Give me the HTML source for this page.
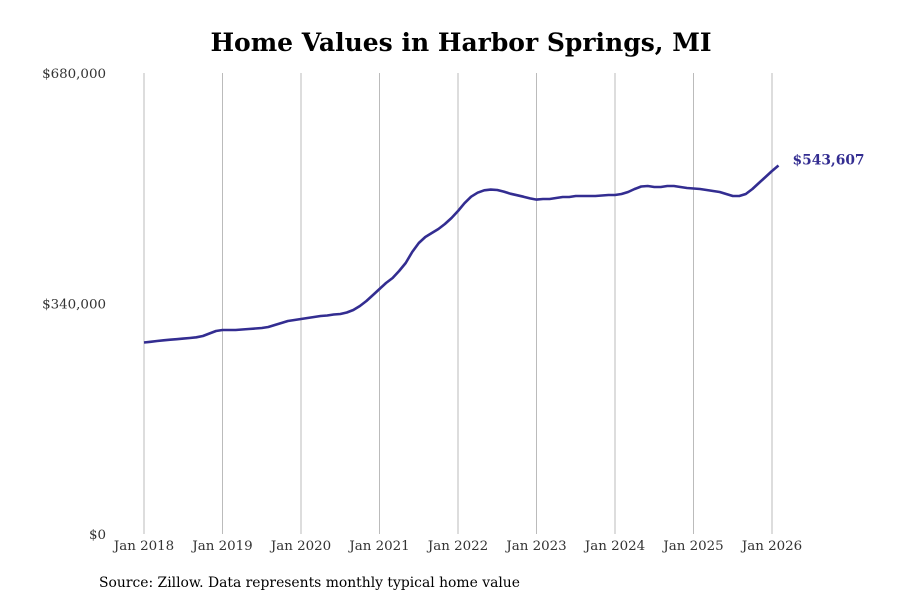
<!DOCTYPE html>
<html><head><meta charset="utf-8"><style>
body{margin:0;background:#fff;}
svg{display:block;font-family:"DejaVu Serif","Liberation Serif",serif;}
</style></head><body>
<svg id="chart" width="900" height="600">
<text x="461" y="51" text-anchor="middle" font-size="25" font-weight="bold">Home Values in Harbor Springs, MI</text>
<g id="grid"></g><g id="yaxis"></g><g id="xaxis"></g><g id="series"></g>
<text x="99" y="587" font-size="13.9">Source: Zillow. Data represents monthly typical home value</text>
</svg>
<script>
const values=[282.5,283.5,284.7,285.7,286.6,287.3,288.2,289.1,290.1,292.1,295.7,299.4,
300.9,300.9,300.9,301.6,302.4,303.1,303.9,305.3,308.3,311.2,314.2,315.7,
317.1,318.6,320.1,321.6,322.3,323.8,324.5,326.7,330.4,336.3,343.7,352.5,
361.4,370.2,377.6,387.9,399.7,416,429.2,438.1,444,449.9,457.3,466.1,
476.5,488,497.5,503.5,507,508,507.4,505,502,499.8,497.5,495,
493.3,494.1,494.1,495.6,497.1,497.1,498.6,498.6,498.6,498.6,499.3,500,
500,501.5,504.5,508.9,512.6,513.3,511.8,511.8,513.3,513.3,511.8,510.4,
509.6,508.9,507.4,505.9,504.5,501.5,498.6,498.6,501.5,508.9,517.7,526.6,
535.4,543.607];
const yTicks=[0,340000,680000];
const yTickLabels=["$0","$340,000","$680,000"];
const xTickLabels=["Jan 2018","Jan 2019","Jan 2020","Jan 2021","Jan 2022","Jan 2023","Jan 2024","Jan 2025","Jan 2026"];
const lastLabel="$543,607";
const NS="http://www.w3.org/2000/svg";
const x=i=>144+i*(628/96);
const y=v=>534-v/680000*461;
function mk(tag,attrs,parent,text){const e=document.createElementNS(NS,tag);for(const k in attrs)e.setAttribute(k,attrs[k]);if(text!==undefined)e.textContent=text;document.getElementById(parent).appendChild(e);return e;}
xTickLabels.forEach((l,j)=>{
 const g=mk('line',{x1:x(j*12),x2:x(j*12),y1:73,y2:534,stroke:'#bbb','stroke-width':1},'grid');
 
 
 const t=mk('text',{x:x(j*12),y:550,'text-anchor':'middle','font-size':13.4,fill:'#333'},'xaxis',l);
 
 
});
yTicks.forEach((v,j)=>{
 const t=mk('text',{x:106,y:y(v)+5,'text-anchor':'end','font-size':13.4,fill:'#333'},'yaxis',yTickLabels[j]);
 
 
});
const d=values.map((v,i)=>(i?'L':'M')+x(i).toFixed(1)+','+y(v*1000).toFixed(1)).join(' ');
const p=mk('path',{d:d,fill:'none',stroke:'#332d91','stroke-width':2.6,'stroke-linejoin':'round'},'series');


const n=values.length-1;
const lt=mk('text',{x:x(n)+14,y:y(values[n]*1000)-1,'font-size':13.8,'font-weight':'bold',fill:'#332d91'},'series',lastLabel);


</script>
</body></html>
